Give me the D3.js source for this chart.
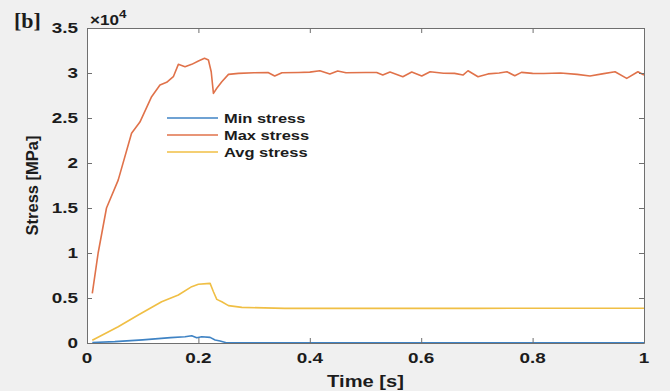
<!DOCTYPE html>
<html>
<head>
<meta charset="utf-8">
<script src="https://cdn.jsdelivr.net/npm/d3@7"></script>
<style>
  html, body { margin: 0; padding: 0; background: #f0f0f0; }
  svg { display: block; }
  text { font-family: "Liberation Sans", Arial, sans-serif; font-weight: bold; fill: #1c1c1c; }
</style>
</head>
<body>
<svg id="chart" width="670" height="391"></svg>
<script>
// Stress history of the member: time in seconds, stress in MPa
const maxTime = [0.0095, 0.020, 0.035, 0.056, 0.080, 0.095, 0.116, 0.131, 0.143, 0.155, 0.164, 0.176,
  0.188, 0.200, 0.211, 0.218, 0.223, 0.227, 0.233, 0.242, 0.254, 0.272, 0.300, 0.325, 0.337, 0.350,
  0.380, 0.400, 0.418, 0.436, 0.450, 0.465, 0.500, 0.520, 0.531, 0.544, 0.567, 0.583, 0.601, 0.616,
  0.640, 0.660, 0.675, 0.684, 0.702, 0.720, 0.740, 0.754, 0.768, 0.780, 0.800, 0.820, 0.850, 0.880,
  0.903, 0.925, 0.948, 0.969, 0.989, 1.000];
const maxStress = [5520, 10000, 15000, 18100, 23300, 24550, 27370, 28670, 28960, 29590, 30960, 30700,
  30960, 31330, 31630, 31440, 30140, 27740, 28300, 29030, 29850, 29960, 30030, 30050, 29660, 30030,
  30060, 30100, 30250, 29890, 30220, 30020, 30060, 30060, 29770, 30110, 29590, 30110, 29660, 30140,
  29980, 29960, 29770, 30250, 29590, 29900, 30000, 30140, 29700, 30070, 29960, 29950, 30000, 29850,
  29660, 29900, 30140, 29400, 30140, 29770];

const avgTime = [0.0095, 0.056, 0.092, 0.134, 0.164, 0.188, 0.200, 0.215, 0.221, 0.227, 0.233, 0.242,
  0.254, 0.278, 0.355, 0.500, 0.700, 0.900, 1.000];
const avgStress = [300, 1810, 3110, 4590, 5330, 6260, 6520, 6600, 6630, 5700, 4850, 4590,
  4150, 3960, 3850, 3850, 3850, 3860, 3860];

const minTime = [0.0095, 0.050, 0.100, 0.150, 0.176, 0.188, 0.197, 0.206, 0.221, 0.230, 0.239, 0.250,
  0.300, 0.600, 1.000];
const minStress = [50, 150, 350, 600, 700, 810, 590, 700, 630, 330, 220, 30, 10, 10, 10];

const xTicks = [0, 0.2, 0.4, 0.6, 0.8, 1];
const xTickLabels = ["0", "0.2", "0.4", "0.6", "0.8", "1"];
const yTicks = [0, 5000, 10000, 15000, 20000, 25000, 30000, 35000];
const yTickLabels = ["0", "0.5", "1", "1.5", "2", "2.5", "3", "3.5"];

const seriesNames = ["Min stress", "Max stress", "Avg stress"];
const seriesColors = ["#3f83c4", "#e0724a", "#f0bf45"];

const W = 670, H = 391;
const m = { left: 87, top: 28, right: 26, bottom: 48 };
const stretch = 1.22; // horizontal widening of the lettering

const svg = d3.select("#chart");
svg.append("rect").attr("width", W).attr("height", H).attr("fill", "#f0f0f0");

const x = d3.scaleLinear().domain([0, 1]).range([m.left, W - m.right]);
const y = d3.scaleLinear().domain([0, 35000]).range([H - m.bottom, m.top]);

// plot area
svg.append("rect")
  .attr("x", x(0)).attr("y", y(35000))
  .attr("width", x(1) - x(0)).attr("height", y(0) - y(35000))
  .attr("fill", "#ffffff");

// data lines
const line = d3.line().x(d => x(d[0])).y(d => y(d[1]));
const series = [
  d3.zip(minTime, minStress),
  d3.zip(maxTime, maxStress),
  d3.zip(avgTime, avgStress)
];
// draw order: max, avg, min on top
[1, 2, 0].forEach(i => {
  svg.append("path")
    .datum(series[i])
    .attr("fill", "none")
    .attr("stroke", seriesColors[i])
    .attr("stroke-width", 1.6)
    .attr("stroke-linejoin", "round")
    .attr("d", line);
});

// axes box with inward ticks on all four sides
const axisColor = "#6f6f6f";
const tickLen = 5;
const gb = svg.append("g").attr("transform", `translate(0,${y(0)})`)
  .call(d3.axisBottom(x).tickValues(xTicks).tickSizeInner(-tickLen).tickSizeOuter(0).tickFormat(""));
const gt = svg.append("g").attr("transform", `translate(0,${y(35000)})`)
  .call(d3.axisTop(x).tickValues(xTicks).tickSizeInner(-tickLen).tickSizeOuter(0).tickFormat(""));
const gl = svg.append("g").attr("transform", `translate(${x(0)},0)`)
  .call(d3.axisLeft(y).tickValues(yTicks).tickSizeInner(-tickLen).tickSizeOuter(0).tickFormat(""));
const gr = svg.append("g").attr("transform", `translate(${x(1)},0)`)
  .call(d3.axisRight(y).tickValues(yTicks).tickSizeInner(-tickLen).tickSizeOuter(0).tickFormat(""));
[gb, gt, gl, gr].forEach(g => {
  g.selectAll("path, line").attr("stroke", axisColor).attr("stroke-width", 1);
});

// tick labels
function label(px, py, txt, size, anchor, base) {
  return svg.append("text")
    .attr("transform", `translate(${px},${py}) scale(${stretch},1)`)
    .attr("text-anchor", anchor || "middle")
    .attr("dominant-baseline", base || "central")
    .style("font-size", size + "px")
    .text(txt);
}
xTicks.forEach((t, i) => label(x(t), y(0) + 15, xTickLabels[i], 15.5));
yTicks.forEach((t, i) => label(x(0) - 9, y(t), yTickLabels[i], 15.5, "end"));

// exponent marker
const ex = svg.append("text")
  .attr("transform", `translate(${x(0) + 3},25) scale(${stretch},1)`)
  .style("font-size", "14px");
ex.append("tspan").text("\u00d710");
ex.append("tspan").attr("dy", -7).style("font-size", "11px").text("4");

// axis titles
label((x(0) + x(1)) / 2, 381, "Time [s]", 16.5);
svg.append("text")
  .attr("transform", `translate(32,${(y(0) + y(35000)) / 2}) rotate(-90)`)
  .attr("text-anchor", "middle")
  .attr("dominant-baseline", "central")
  .style("font-size", "16.5px")
  .text("Stress [MPa]");

// panel tag
svg.append("text")
  .attr("transform", `translate(14,28) scale(1.1,1)`)
  .style("font-family", "'Liberation Serif', 'Times New Roman', serif")
  .style("font-size", "20px")
  .text("[b]");

// legend
const legY = [118, 135, 152];
seriesNames.forEach((name, i) => {
  svg.append("line")
    .attr("x1", 167).attr("x2", 218)
    .attr("y1", legY[i]).attr("y2", legY[i])
    .attr("stroke", seriesColors[i]).attr("stroke-width", 1.6);
  label(224, legY[i], name, 13.5, "start");
});
</script>
</body>
</html>
